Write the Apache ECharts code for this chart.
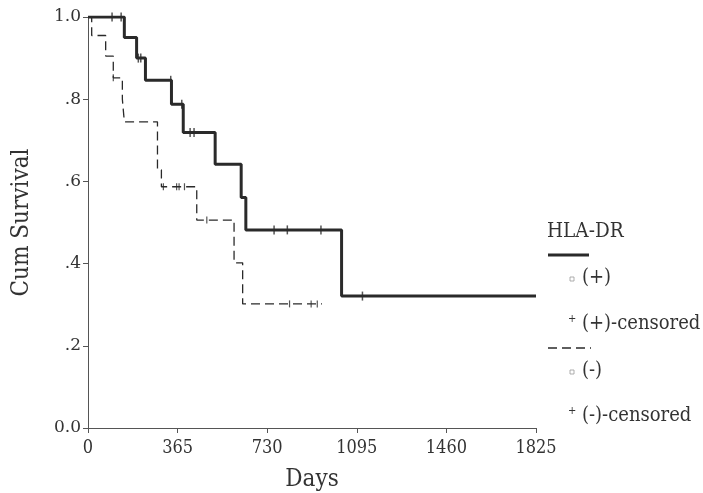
<!DOCTYPE html>
<html>
<head>
<meta charset="utf-8">
<script src="https://cdn.jsdelivr.net/npm/echarts@6/dist/echarts.min.js"></script>
<style>
html,body{margin:0;padding:0;background:#fff;}
#chart{width:703px;height:493px;}
</style>
</head>
<body>
<div id="chart"></div>
<script>
// ---- data ----
var xTicks = [0, 365, 730, 1095, 1460, 1825];
var yTicks = [0, 0.2, 0.4, 0.6, 0.8, 1.0];
var yTickLabels = ['0.0', '.2', '.4', '.6', '.8', '1.0'];

// HLA-DR (+) : step curve (time, cumulative survival after event)
var posTimes = [0, 148, 198, 234, 340, 388, 518, 624, 643, 1033, 1825];
var posSurv  = [1.0, 0.95, 0.90, 0.846, 0.788, 0.719, 0.642, 0.561, 0.482, 0.321, 0.321];
var posCensorT = [98, 135, 205, 215, 337, 382, 416, 432, 758, 812, 949, 1118];
var posCensorS = [1.0, 1.0, 0.90, 0.90, 0.846, 0.788, 0.719, 0.719, 0.482, 0.482, 0.482, 0.321];

// HLA-DR (-)
var negTimes = [0, 15, 72, 103, 140, 148, 283, 299, 443, 595, 630, 953];
var negSurv  = [1.0, 0.955, 0.905, 0.852, 0.80, 0.745, 0.628, 0.587, 0.506, 0.402, 0.302, 0.302];
var negCensorT = [103, 307, 361, 371, 393, 484, 821, 909, 934];
var negCensorS = [0.852, 0.587, 0.587, 0.587, 0.587, 0.506, 0.302, 0.302, 0.302];

var legendTitle = 'HLA-DR';
var legendItems = ['(+)', '(+)-censored', '(-)', '(-)-censored'];

function zip(a, b) { return a.map(function (v, i) { return [v, b[i]]; }); }

var FONT = 'DejaVu Serif Condensed';
var FONT_Y = 'DejaVu Serif';
var INK = '#2a2a2a';

var chart = echarts.init(document.getElementById('chart'), null, {renderer: 'canvas'});
chart.setOption({
  backgroundColor: '#fff',
  animation: false,
  grid: {left: 88, right: 167, top: 17, bottom: 65, containLabel: false, outerBoundsMode: 'none'},
  xAxis: {
    type: 'value', min: 0, max: 1825, interval: 365,
    name: 'Days', nameLocation: 'middle', nameGap: 40,
    nameTextStyle: {fontFamily: FONT, fontSize: 24, color: '#333'},
    axisLine: {lineStyle: {color: '#555', width: 1}},
    axisTick: {show: true, inside: false, length: 5, lineStyle: {color: '#555'}},
    axisLabel: {fontFamily: FONT, fontSize: 18, color: '#333', margin: 11,
      formatter: function (v) { return xTicks.indexOf(v) >= 0 ? String(v) : ''; }},
    splitLine: {show: false}
  },
  yAxis: {
    type: 'value', min: 0, max: 1, interval: 0.2,
    name: 'Cum Survival', nameLocation: 'middle', nameGap: 54, nameRotate: 90,
    nameTextStyle: {fontFamily: FONT, fontSize: 24, color: '#333'},
    axisLine: {show: true, lineStyle: {color: '#555', width: 1}},
    axisTick: {show: true, length: 5, lineStyle: {color: '#555'}},
    axisLabel: {fontFamily: FONT_Y, fontSize: 17, color: '#333', margin: 7,
      formatter: function (v) {
        for (var i = 0; i < yTicks.length; i++) if (Math.abs(yTicks[i] - v) < 1e-6) return yTickLabels[i];
        return '';
      }},
    splitLine: {show: false}
  },
  series: [
    {type: 'line', step: 'end', data: zip(negTimes, negSurv), showSymbol: false, symbol: 'none',
     lineStyle: {color: INK, width: 1.3, type: [9, 5]}, z: 2},
    {type: 'line', step: 'end', data: zip(posTimes, posSurv), showSymbol: false, symbol: 'none',
     lineStyle: {color: INK, width: 3}, z: 3},
    {type: 'scatter', data: zip(posCensorT, posCensorS), symbol: 'rect', symbolSize: [1.5, 9],
     itemStyle: {color: INK}, z: 4},
    {type: 'scatter', data: zip(negCensorT, negCensorS), symbol: 'rect', symbolSize: [1.2, 7],
     itemStyle: {color: INK}, z: 4}
  ],
  graphic: [
    {type: 'text', left: 547, top: 221, style: {text: legendTitle, font: '20.5px "' + FONT + '"', fill: '#333'}},
    {type: 'line', shape: {x1: 548, y1: 255, x2: 589, y2: 255}, style: {stroke: INK, lineWidth: 3}},
    {type: 'rect', shape: {x: 570, y: 277, width: 4, height: 4}, style: {fill: 'none', stroke: '#999', lineWidth: 0.8}},
    {type: 'text', left: 582, top: 268, style: {text: legendItems[0], font: '20px "' + FONT + '"', fill: '#333'}},
    {type: 'text', left: 568, top: 314, style: {text: '+', font: '11px "' + FONT + '"', fill: '#333'}},
    {type: 'text', left: 582, top: 314, style: {text: legendItems[1], font: '20px "' + FONT + '"', fill: '#333'}},
    {type: 'line', shape: {x1: 548, y1: 348, x2: 591, y2: 348}, style: {stroke: INK, lineWidth: 1.3, lineDash: [9, 5]}},
    {type: 'rect', shape: {x: 570, y: 370, width: 4, height: 4}, style: {fill: 'none', stroke: '#999', lineWidth: 0.8}},
    {type: 'text', left: 582, top: 361, style: {text: legendItems[2], font: '20px "' + FONT + '"', fill: '#333'}},
    {type: 'text', left: 568, top: 406, style: {text: '+', font: '11px "' + FONT + '"', fill: '#333'}},
    {type: 'text', left: 582, top: 406, style: {text: legendItems[3], font: '20px "' + FONT + '"', fill: '#333'}}
  ]
});
</script>
</body>
</html>
